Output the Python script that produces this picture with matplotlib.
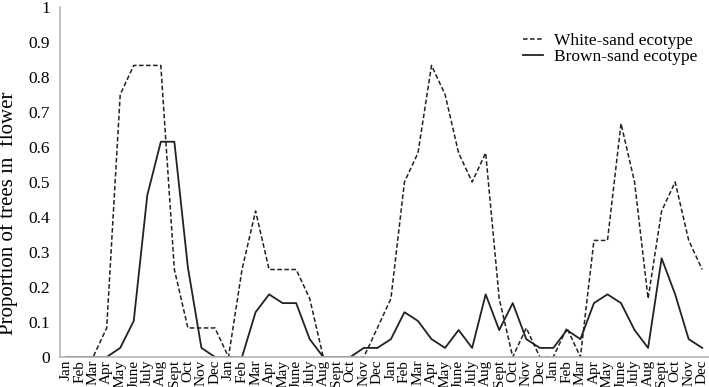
import numpy as np
import matplotlib
matplotlib.use("Agg")
import matplotlib.pyplot as plt

#######################################
## Data
#######################################
months = ["Jan", "Feb", "Mar", "Apr", "May", "June", "July", "Aug", "Sept", "Oct", "Nov", "Dec"]
month_labels = months * 4

white_sand = [0, 0, 0, 0.083, 0.75, 0.833, 0.833, 0.833, 0.25, 0.083, 0.083, 0.083,
              0, 0.25, 0.417, 0.25, 0.25, 0.25, 0.167, 0, 0, 0, 0, 0.083,
              0.167, 0.5, 0.583, 0.833, 0.75, 0.583, 0.5, 0.583, 0.167, 0, 0.083, 0,
              0, 0.083, 0, 0.333, 0.333, 0.667, 0.5, 0.167, 0.417, 0.5, 0.333, 0.25]

brown_sand = [0, 0, 0, 0, 0.026, 0.103, 0.462, 0.615, 0.615, 0.256, 0.026, 0,
              0, 0, 0.128, 0.179, 0.154, 0.154, 0.051, 0, 0, 0, 0.026, 0.026,
              0.051, 0.128, 0.103, 0.051, 0.026, 0.077, 0.026, 0.179, 0.077, 0.154, 0.051, 0.026,
              0.026, 0.077, 0.051, 0.154, 0.179, 0.154, 0.077, 0.026, 0.282, 0.179, 0.051, 0.026]

y_ticks = [0, 0.1, 0.2, 0.3, 0.4, 0.5, 0.6, 0.7, 0.8, 0.9, 1]
y_tick_labels = ["0", "0.1", "0.2", "0.3", "0.4", "0.5", "0.6", "0.7", "0.8", "0.9", "1"]

#######################################
## Plot
#######################################
plt.rcParams['font.family'] = ['Liberation Serif', 'DejaVu Serif']

fig = plt.figure(figsize=(7.09, 3.87), dpi=100)
ax = fig.add_axes([0.0846, 0.0775, 0.9154, 0.9045])

x = np.arange(len(month_labels))
ax.plot(x, white_sand, color='#222222', lw=1.1, ls=(0, (3, 1.6)), label='White-sand ecotype')
ax.plot(x, brown_sand, color='#222222', lw=1.3, ls='-', label='Brown-sand ecotype')

ax.set_xlim(-0.45, 47.5)
ax.set_ylim(0, 1)
ax.set_xticks(x)
ax.set_xticklabels(month_labels, rotation=90, fontsize=11, va='top')
ax.set_yticks(y_ticks)
ax.set_yticklabels(y_tick_labels, fontsize=12.5)
ax.tick_params(axis='y', length=0, pad=7)
ax.tick_params(axis='x', length=0, pad=2)

for s in ['top', 'right']:
    ax.spines[s].set_visible(False)
for s in ['left', 'bottom']:
    ax.spines[s].set_color('#b5b5b5')
    ax.spines[s].set_linewidth(1.2)

ax.set_ylabel('Proportion of trees in  flower', fontsize=15)
ax.yaxis.set_label_coords(-0.064, 0.41)

ax.legend(loc='upper right', bbox_to_anchor=(1.006, 0.97), frameon=False, fontsize=12.5,
          handlelength=1.2, handletextpad=0.6, labelspacing=0.0)

plt.savefig("out.png", dpi=100)
